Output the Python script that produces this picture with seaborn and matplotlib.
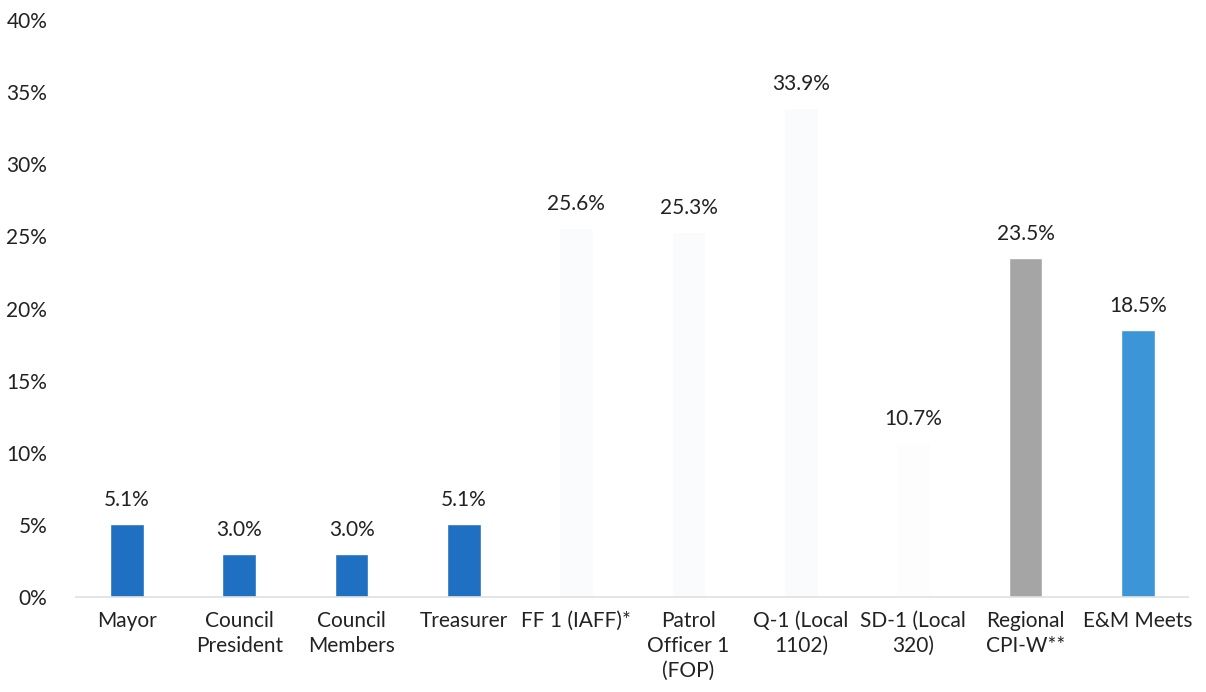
import matplotlib.pyplot as plt
import pandas as pd
import seaborn as sns

categories = [
    "Mayor", "Council\nPresident", "Council\nMembers", "Treasurer",
    "FF 1 (IAFF)*", "Patrol\nOfficer 1\n(FOP)", "Q-1 (Local\n1102)",
    "SD-1 (Local\n320)", "Regional\nCPI-W**", "E&M Meets",
]
values = [5.1, 3.0, 3.0, 5.1, 25.6, 25.3, 33.9, 10.7, 23.5, 18.5]
labels = ["5.1%", "3.0%", "3.0%", "5.1%", "25.6%", "25.3%", "33.9%", "10.7%", "23.5%", "18.5%"]
colors = [
    "#1f6fc2", "#1f6fc2", "#1f6fc2", "#1f6fc2",
    "#f9fbfd", "#f9fbfd", "#f9fbfd", "#fdfdfe",
    "#a5a5a5", "#3b95d6",
]

df = pd.DataFrame({"category": categories, "value": values})

sns.set_style("white")
plt.rcParams["font.family"] = ["Lato", "DejaVu Sans"]

fig = plt.figure(figsize=(12.06, 6.92), dpi=100)
ax = fig.add_axes([0.0634, 0.137, 0.922, 0.834])

sns.barplot(data=df, x="category", y="value", hue="category",
            palette=colors, width=0.3, legend=False, ax=ax, saturation=1)

for i, (v, lab) in enumerate(zip(values, labels)):
    ax.annotate(lab, (i, v), xytext=(0, 10), textcoords="offset points",
                ha="center", va="bottom", fontsize=15, color="#222222")

ax.set_ylim(0, 40)
ax.set_xlim(-0.45, 9.45)
ax.set_yticks(range(0, 41, 5))
ax.set_yticklabels([f"{t}%" for t in range(0, 41, 5)], fontsize=15, color="#222222")
ax.set_xticks(range(len(categories)))
ax.set_xticklabels(categories, fontsize=15, color="#222222", linespacing=1.3)
ax.tick_params(axis="x", length=0, pad=10)
ax.tick_params(axis="y", length=0, pad=21)
ax.set_xlabel("")
ax.set_ylabel("")
for s in ["top", "right", "left"]:
    ax.spines[s].set_visible(False)
ax.spines["bottom"].set_color("#e0e0e0")
ax.spines["bottom"].set_linewidth(1.2)

fig.savefig("out.png", dpi=100)
